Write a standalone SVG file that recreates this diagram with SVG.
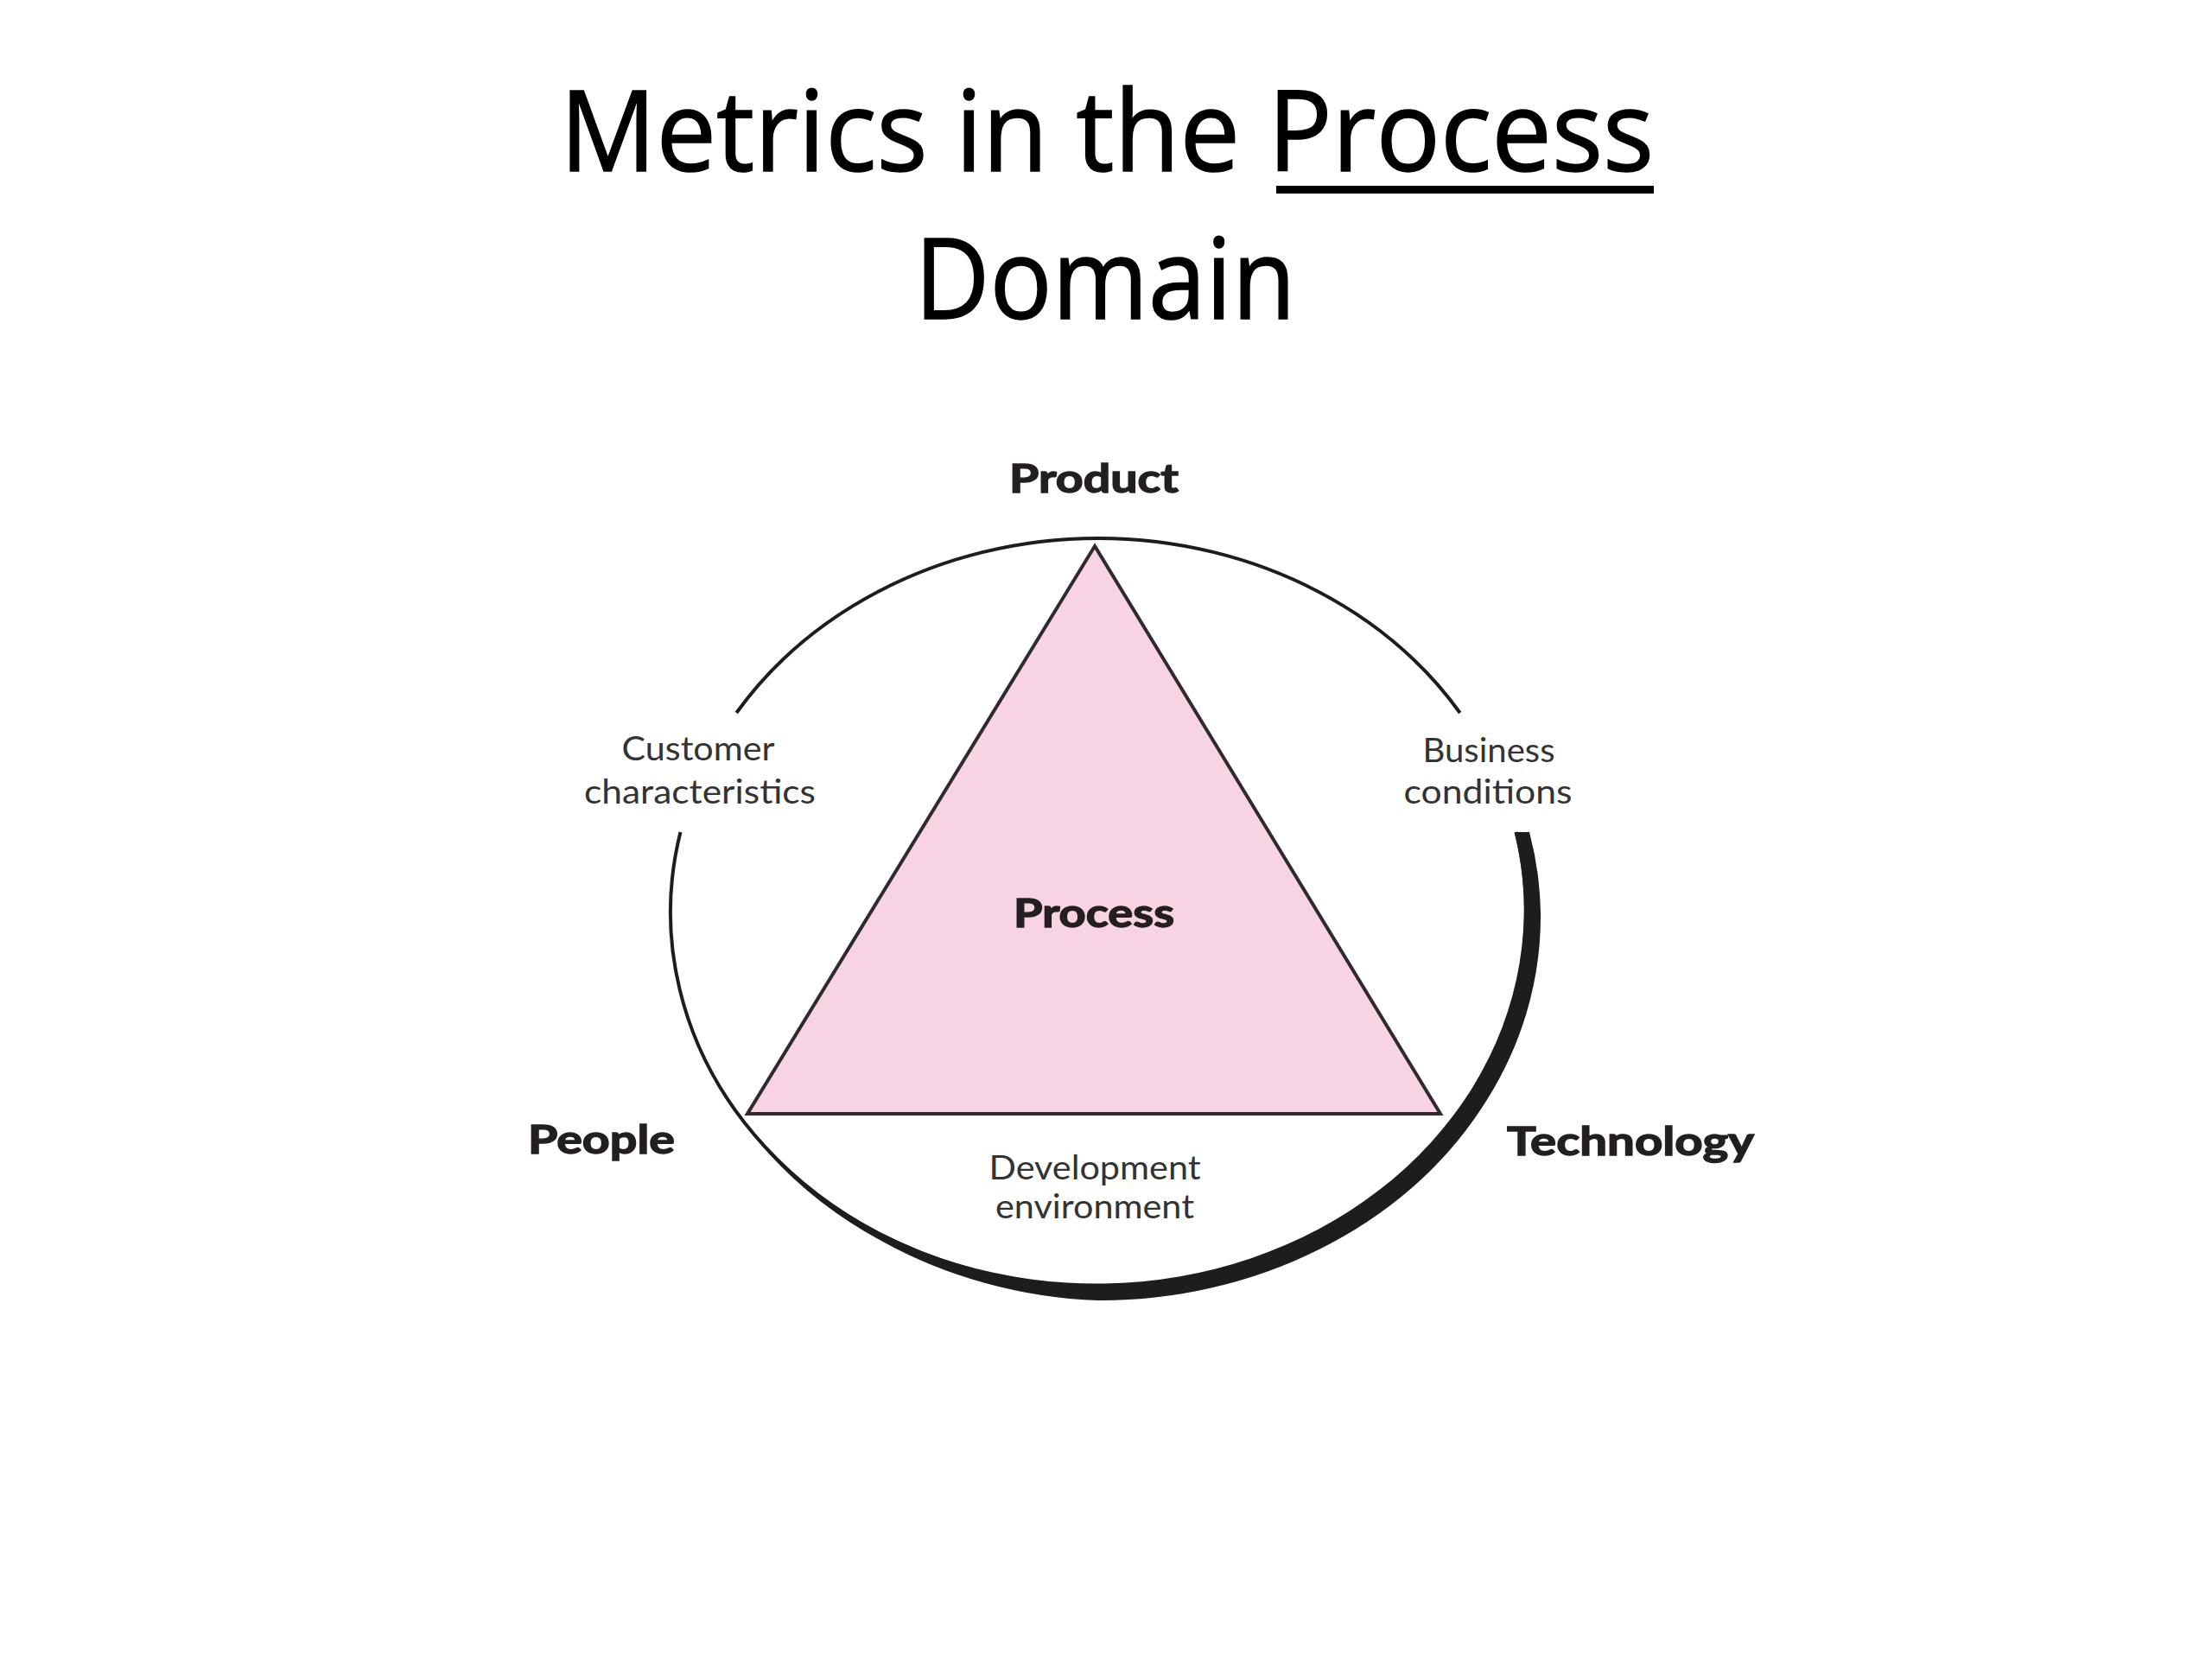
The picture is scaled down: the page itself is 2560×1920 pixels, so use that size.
<svg xmlns="http://www.w3.org/2000/svg" width="2560" height="1920" viewBox="0 0 2560 1920">
  <style>
    .title { font-family: "Open Sans", "Liberation Sans", sans-serif; font-size: 130px; fill: #000; stroke: #000; stroke-width: 1.5; }
    .bold { font-family: "Lato", "Liberation Sans", sans-serif; font-weight: bold; font-size: 45px; fill: #231f20; stroke: #231f20; stroke-width: 1.4; }
    .light { font-family: "Lato", "Liberation Sans", sans-serif; font-size: 39px; fill: #333; }
    .ring { fill: none; stroke: #1e1c1d; stroke-width: 4; }
    .crescent { fill: #1e1c1d; stroke: none; }
    .tri { fill: #f8d3e4; stroke: #2f2a2c; stroke-width: 4; stroke-linejoin: miter; }
  </style>
  <rect width="2560" height="1920" fill="#fff"/>

  <g id="title">
    <text class="title" x="1281" y="198" text-anchor="middle" textLength="1266" lengthAdjust="spacingAndGlyphs">Metrics in the Process</text>
    <rect x="1477" y="215" width="437" height="9" fill="#000"/>
    <text class="title" x="1279" y="369" text-anchor="middle" textLength="441" lengthAdjust="spacingAndGlyphs">Domain</text>
  </g>

  <g id="connectors">
    <g id="ring">
      <path class="ring" d="M 852.3 825 A 495 433 0 0 1 1689.7 825"/>
      <path class="ring" d="M 787.5 963 A 495 433 0 1 0 1754.5 963"/>
      <path class="crescent" d="M 1753 963 L 1770 963 A 505 443 0 0 1 1783 1056 A 505 443 0 0 1 1766.3 1173.4 A 505 443 0 0 1 1714.7 1282.4 A 505 443 0 0 1 1632.8 1375.8 A 505 443 0 0 1 1526.2 1446.2 A 505 443 0 0 1 1402.9 1490.3 A 505 443 0 0 1 1271 1505 A 505 443 0 0 1 1140.4 1484.9 A 505 443 0 0 1 1020.8 1436.4 A 505 443 0 0 1 950.4 1390.9 A 505 443 0 0 1 890.4 1335.7 A 505 443 0 0 1 842.3 1272.5 A 495 433 0 0 0 1753 963 Z"/>
    </g>
  </g>

  <g id="node-process">
    <polygon class="tri" points="1267,632 1667,1289 865,1289"/>
    <text class="bold" x="1266" y="1073" text-anchor="middle" textLength="186" lengthAdjust="spacingAndGlyphs">Process</text>
  </g>

  <g id="node-product">
    <text class="bold" x="1266" y="570" text-anchor="middle" textLength="196" lengthAdjust="spacingAndGlyphs">Product</text>
  </g>

  <g id="node-people">
    <text class="bold" x="696" y="1335" text-anchor="middle" textLength="170" lengthAdjust="spacingAndGlyphs">People</text>
  </g>

  <g id="node-technology">
    <text class="bold" x="1887" y="1337" text-anchor="middle" textLength="286" lengthAdjust="spacingAndGlyphs">Technology</text>
  </g>

  <g id="label-customer">
    <text class="light" x="808" y="880" text-anchor="middle" textLength="177" lengthAdjust="spacingAndGlyphs">Customer</text>
    <text class="light" x="810" y="930" text-anchor="middle" textLength="268" lengthAdjust="spacingAndGlyphs">characteristics</text>
  </g>

  <g id="label-business">
    <text class="light" x="1723" y="882" text-anchor="middle" textLength="153" lengthAdjust="spacingAndGlyphs">Business</text>
    <text class="light" x="1722" y="930" text-anchor="middle" textLength="195" lengthAdjust="spacingAndGlyphs">conditions</text>
  </g>

  <g id="label-development">
    <text class="light" x="1267" y="1365" text-anchor="middle" textLength="245" lengthAdjust="spacingAndGlyphs">Development</text>
    <text class="light" x="1267" y="1410" text-anchor="middle" textLength="230" lengthAdjust="spacingAndGlyphs">environment</text>
  </g>
</svg>
